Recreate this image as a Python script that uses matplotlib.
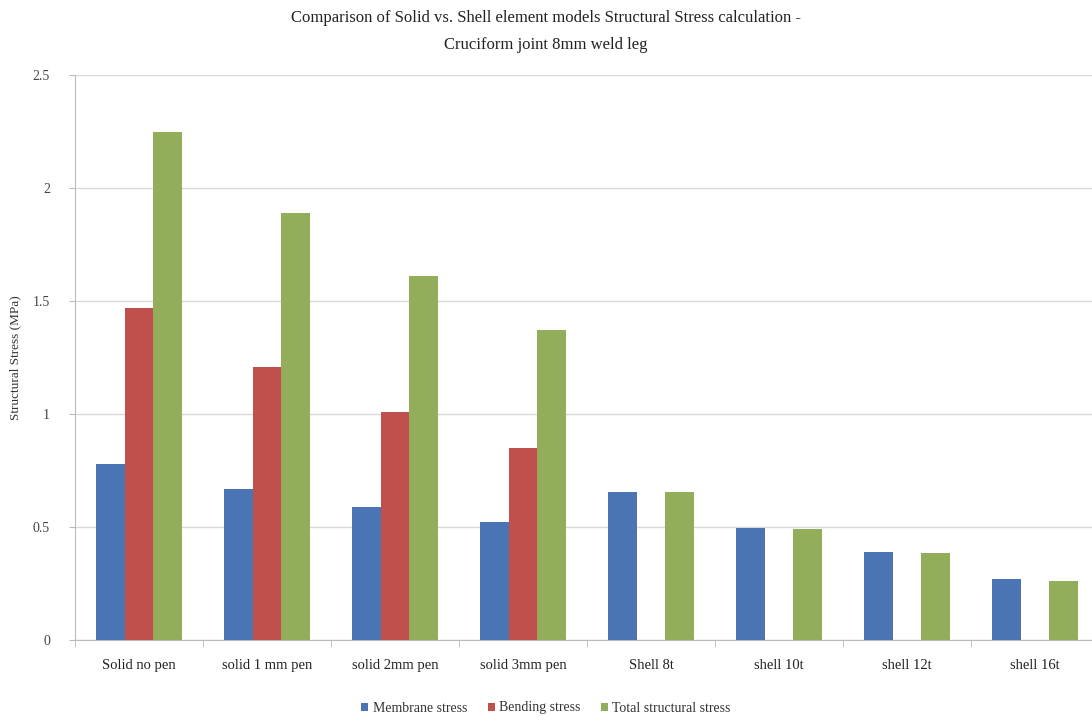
import matplotlib
matplotlib.use("Agg")
import matplotlib.pyplot as plt
import numpy as np

categories = ["Solid no pen", "solid 1 mm pen", "solid 2mm pen", "solid 3mm pen",
              "Shell 8t", "shell 10t", "shell 12t", "shell 16t"]
membrane = [0.78, 0.67, 0.59, 0.52, 0.655, 0.495, 0.39, 0.27]
bending = [1.47, 1.21, 1.01, 0.85, 0.0, 0.0, 0.0, 0.0]
total = [2.25, 1.89, 1.61, 1.37, 0.655, 0.49, 0.385, 0.26]
series_names = ["Membrane stress", "Bending stress", "Total structural stress"]
colors = ["#4A74B4", "#C0504D", "#93AE5A"]
yticks = [0, 0.5, 1, 1.5, 2, 2.5]
ytick_labels = ["0", "0.5", "1", "1.5", "2", "2.5"]

plt.rcParams["font.family"] = ["Liberation Serif", "DejaVu Serif"]

W, H = 1092, 722
fig = plt.figure(figsize=(W / 100, H / 100), dpi=100)
left, right, bottom, top = 75, 1099, 640, 75
ax = fig.add_axes([left / W, 1 - bottom / H, (right - left) / W, (bottom - top) / H])

x = np.arange(len(categories))
bw = 0.222
for i, (vals, name, c) in enumerate(zip([membrane, bending, total], series_names, colors)):
    ax.bar(x + (i - 1) * bw, vals, width=bw, color=c, label=name, zorder=3)

ax.set_xlim(-0.5, len(categories) - 0.5)
ax.set_ylim(0, 2.5)
ax.set_yticks(yticks)
ax.set_yticklabels(ytick_labels, fontsize=10, color="#444444")
ax.set_xticks(x)
ax.set_xticklabels(categories, fontsize=10.5, color="#222222")
ax.set_xticks(np.arange(-0.5, len(categories), 1), minor=True)
ax.tick_params(axis="x", which="major", length=0, pad=14)
ax.tick_params(axis="x", which="minor", length=5, color="#bbbbbb")
ax.tick_params(axis="y", length=4, color="#bbbbbb", pad=14)
ax.grid(axis="y", color="#d9d9d9", linewidth=1, zorder=0)
for s in ["top", "right"]:
    ax.spines[s].set_visible(False)
for s in ["left", "bottom"]:
    ax.spines[s].set_color("#bbbbbb")

ax.set_ylabel("Structural Stress (MPa)", fontsize=9.5, color="#333333", labelpad=8)
fig.text(0.5, 1 - 18 / H, "Comparison of Solid vs. Shell element models Structural Stress calculation -",
         ha="center", va="center", fontsize=12, color="#222222")
fig.text(0.5, 1 - 45 / H, "Cruciform joint 8mm weld leg",
         ha="center", va="center", fontsize=12, color="#222222")

fig.legend(loc="center", bbox_to_anchor=(0.5, 1 - 708 / H), ncol=3, frameon=False,
           fontsize=10, handlelength=0.5, handleheight=0.5, handletextpad=0.3,
           columnspacing=1.5, labelcolor="#333333")

fig.savefig("out.png", dpi=100)
